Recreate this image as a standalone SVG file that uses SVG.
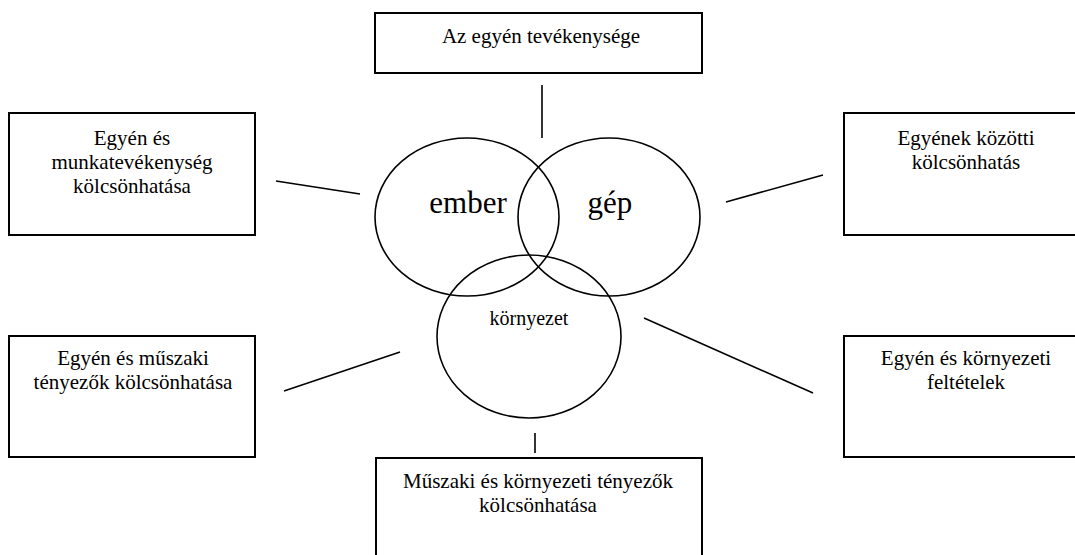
<svg xmlns="http://www.w3.org/2000/svg" width="1075" height="555" viewBox="0 0 1075 555">
  <style>
    .box { fill: #ffffff; stroke: #000000; stroke-width: 2; }
    .ring { fill: none; stroke: #000000; stroke-width: 1.6; }
    .link { stroke: #000000; stroke-width: 1.6; fill: none; }
    .lbl { font-family: 'Liberation Serif', 'Tinos', 'DejaVu Serif', serif; font-size: 21px; fill: #000000; text-anchor: middle; }
    .big { font-size: 31px; }
    .mid { font-size: 20px; }
  </style>
  <rect width="1075" height="555" fill="#ffffff"/>

  <!-- connectors between the central circles and the outer boxes -->
  <g id="connectors">
    <line class="link" x1="542" y1="85" x2="542" y2="138"/>
    <line class="link" x1="276" y1="181" x2="360" y2="194"/>
    <line class="link" x1="726" y1="202" x2="823" y2="175"/>
    <line class="link" x1="284" y1="391" x2="400" y2="352"/>
    <line class="link" x1="644" y1="318" x2="813" y2="393"/>
    <line class="link" x1="535" y1="433" x2="535" y2="453"/>
  </g>

  <!-- central Venn circles -->
  <g id="ember">
    <ellipse class="ring" cx="467" cy="217" rx="92" ry="79"/>
    <text class="lbl big" x="468" y="213">ember</text>
  </g>
  <g id="gep">
    <ellipse class="ring" cx="609" cy="217" rx="91" ry="79"/>
    <text class="lbl big" x="610" y="213">gép</text>
  </g>
  <g id="kornyezet">
    <ellipse class="ring" cx="529" cy="336.5" rx="92" ry="81.5"/>
    <text class="lbl mid" x="529" y="325">környezet</text>
  </g>

  <!-- outer boxes -->
  <g id="egyen-tevekenysege">
    <rect class="box" x="375" y="13" width="327" height="60"/>
    <text class="lbl" x="541" y="43">Az egyén tevékenysége</text>
  </g>
  <g id="munkatevekenyseg">
    <rect class="box" x="9" y="113" width="246" height="122"/>
    <text class="lbl" x="132" y="145">Egyén és</text>
    <text class="lbl" x="132" y="169">munkatevékenység</text>
    <text class="lbl" x="132" y="193">kölcsönhatása</text>
  </g>
  <g id="egyenek-kozotti">
    <rect class="box" x="844" y="113" width="246" height="122"/>
    <text class="lbl" x="966" y="145">Egyének közötti</text>
    <text class="lbl" x="966" y="169">kölcsönhatás</text>
  </g>
  <g id="muszaki-tenyezok">
    <rect class="box" x="9" y="336" width="246" height="121"/>
    <text class="lbl" x="133" y="365">Egyén és műszaki</text>
    <text class="lbl" x="133" y="389">tényezők kölcsönhatása</text>
  </g>
  <g id="kornyezeti-feltetelek">
    <rect class="box" x="844" y="336" width="246" height="121"/>
    <text class="lbl" x="966" y="365">Egyén és környezeti</text>
    <text class="lbl" x="966" y="389">feltételek</text>
  </g>
  <g id="muszaki-kornyezeti">
    <rect class="box" x="376" y="458" width="326" height="120"/>
    <text class="lbl" x="538" y="488">Műszaki és környezeti tényezők</text>
    <text class="lbl" x="538" y="512">kölcsönhatása</text>
  </g>
</svg>
